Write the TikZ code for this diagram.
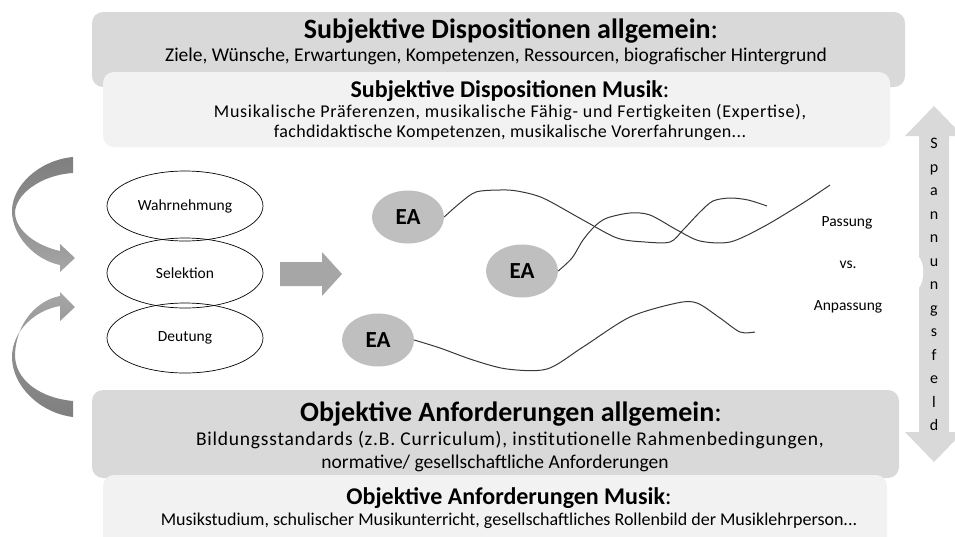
\documentclass[tikz,border=0pt]{standalone}
\usepackage{fontspec}
\setmainfont{Carlito}
\usetikzlibrary{shapes.geometric}
\definecolor{boxdark}{HTML}{D9D9D9}
\definecolor{boxlight}{HTML}{F2F2F2}
\definecolor{arrdark}{HTML}{7F7F7F}
\definecolor{arrlight}{HTML}{A6A6A6}
\definecolor{eafill}{HTML}{BFBFBF}
\definecolor{linecol}{HTML}{383838}
\begin{document}
\begin{tikzpicture}[x=1pt,y=-1pt,
  bigbox/.style={fill=boxdark, rounded corners=11pt},
  smallbox/.style={fill=boxlight, rounded corners=11pt},
  bigtitle/.style={inner sep=0pt, font=\fontsize{28}{32}\selectfont},
  bigtext/.style={inner sep=0pt, font=\fontsize{19.5}{23}\selectfont},
  smalltitle/.style={inner sep=0pt, font=\fontsize{24}{28}\selectfont},
  smalltext/.style={inner sep=0pt, font=\fontsize{18}{21}\selectfont},
  procell/.style={draw=black, line width=0.7pt, ellipse, minimum width=156pt, minimum height=70pt, inner sep=0pt, font=\fontsize{15.5}{18}\selectfont},
  eaell/.style={ellipse, fill=eafill, minimum width=72pt, minimum height=53pt, inner sep=0pt, font=\bfseries\fontsize{23}{26}\selectfont},
  wave/.style={draw=linecol, line width=1pt},
  sidetext/.style={inner sep=0pt, font=\fontsize{15.5}{18}\selectfont}
]
\useasboundingbox (0,0) rectangle (955,536);

% top boxes
\path[bigbox] (92,12) rectangle (905,87);
\path[smallbox] (103,72) rectangle (890,147);
\node[bigtitle] (t1) at (511,31) {{\bfseries Subjektive Dispositionen allgemein}:};
\node[bigtext] (t2) at (496,56) {Ziele, Wünsche, Erwartungen, Kompetenzen, Ressourcen, biografischer Hintergrund};
\node[smalltitle] (t3) at (510,91) {{\bfseries Subjektive Dispositionen Musik}:};
\node[smalltext] (t4) at (510,112) {\addfontfeature{LetterSpace=4}Musikalische Präferenzen, musikalische Fähig- und Fertigkeiten (Expertise),};
\node[smalltext] (t5) at (510,133) {\addfontfeature{LetterSpace=2}fachdidaktische Kompetenzen, musikalische Vorerfahrungen...};

% bottom boxes
\path[bigbox] (92,390) rectangle (899,478);
\path[smallbox] (103,475) rectangle (887,550);
\node[bigtitle] (b1) at (511,414) {{\bfseries Objektive Anforderungen allgemein}:};
\node[bigtext] (b2) at (510,440) {\addfontfeature{LetterSpace=4}Bildungsstandards (z.B. Curriculum), institutionelle Rahmenbedingungen,};
\node[bigtext] (b3) at (495,463) {normative/ gesellschaftliche Anforderungen};
\node[smalltitle] (b4) at (509,498) {{\bfseries Objektive Anforderungen Musik}:};
\node[smalltext] (b5) at (509,521) {Musikstudium, schulischer Musikunterricht, gesellschaftliches Rollenbild der Musiklehrperson...};

% left curved arrows
\shade[top color=arrdark, bottom color=arrlight, middle color=arrdark!60!arrlight]
  (73,157) .. controls (40,160) and (12,185) .. (12,211)
  .. controls (12,236) and (35,260) .. (60,265) -- (60,272) -- (75,258) -- (60,244) -- (60,251)
  .. controls (38,246) and (16,232) .. (15,213)
  .. controls (15,195) and (40,175) .. (73,173) -- cycle;
\shade[top color=arrlight, bottom color=arrdark, middle color=arrdark!60!arrlight]
  (73,417) .. controls (40,413) and (12,386) .. (12,357)
  .. controls (12,331) and (35,310) .. (60,306) -- (60,321) -- (75,307) -- (60,292) -- (60,296)
  .. controls (38,300) and (16,322) .. (15,355)
  .. controls (15,380) and (40,398) .. (73,401) -- cycle;

% perception ellipses
\node[procell] (wahr) at (185,206) {Wahrnehmung};
\node[procell] (sel) at (185,273) {Selektion};
\node[procell] (deut) at (185,338) {Deutung};

% middle arrow
\fill[arrlight] (280,262) -- (322,262) -- (322,252) -- (342,274) -- (322,296) -- (322,286) -- (280,286) -- cycle;

% EA nodes
\node[eaell] (ea1) at (408,217) {EA};
\node[eaell] (ea2) at (522,271) {EA};
\node[eaell] (ea3) at (378,340) {EA};

\coordinate (e1) at (767,206);
\coordinate (e2) at (830,185);
\coordinate (e3) at (755,332);
\draw[wave] plot[smooth, tension=0.5] coordinates {(ea1.east) (460,203) (476,192) (500,190) (517,191) (543,198) (583,220) (617,238) (645,242) (670,242) (683,230) (700,212) (713,201) (730,198) (748,200) (e1)};
\draw[wave] plot[smooth, tension=0.5] coordinates {(ea2.east) (572,258) (583,240) (595,226) (607,218) (630,213) (650,215) (677,230) (700,241) (730,242) (763,227) (803,203) (e2)};
\draw[wave] plot[smooth, tension=0.5] coordinates {(ea3.east) (440,348) (473,360) (507,369) (547,369) (583,347) (630,317) (677,303) (697,303) (720,318) (740,332) (e3)};

% Passung vs. Anpassung
\node[sidetext] (pass) at (847,223) {Passung};
\node[sidetext] (vs) at (848,265) {vs.};
\node[sidetext] (anp) at (848,307) {Anpassung};

% right double arrow
\fill[boxdark] (934,106) -- (963,136) -- (949,136) -- (949,432) -- (963,432) -- (934,462) -- (905,432) -- (919,432) -- (919,136) -- (905,136) -- cycle;
\fill[white] (918,256) .. controls (925,262) and (925,282) .. (918,289) -- cycle;
\node[inner sep=0pt, align=center, font=\fontsize{16}{23.5}\selectfont, anchor=north] (span) at (934,138) {S\\p\\a\\n\\n\\u\\n\\g\\s\\f\\e\\l\\d};
\end{tikzpicture}
\end{document}
